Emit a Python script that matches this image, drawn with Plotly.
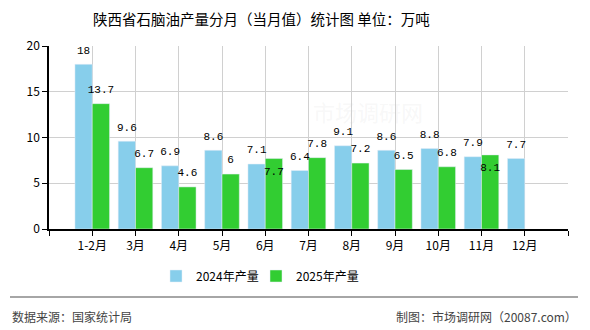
import plotly.graph_objects as go

months = ["1-2月", "3月", "4月", "5月", "6月", "7月", "8月", "9月", "10月", "11月", "12月"]
y2024 = [18, 9.6, 6.9, 8.6, 7.1, 6.4, 9.1, 8.6, 8.8, 7.9, 7.7]
y2025 = [13.7, 6.7, 4.6, 6, 7.7, 7.8, 7.2, 6.5, 6.8, 8.1, None]
pos2024 = ["top center"] * 11
pos2025 = ["top center"] * 11
pos2025[4] = "bottom center"
pos2025[9] = "bottom center"

c24 = "#87CEEB"
c25 = "#32CD32"
cjk = "Noto Sans CJK SC"
xs = list(range(len(months)))

def fmt(v):
    if v is None:
        return ""
    return ("%g" % v)

lblfont = dict(family="Liberation Mono", size=11, color="#000")

fig = go.Figure()
fig.add_trace(go.Bar(x=xs, y=y2024, name="2024年产量", marker_color=c24, hoverinfo="skip", legend="legend"))
fig.add_trace(go.Bar(x=xs, y=y2025, name="2025年产量", marker_color=c25, hoverinfo="skip", legend="legend2"))
fig.add_trace(go.Scatter(x=[i - 0.2 for i in xs], y=y2024, mode="markers+text", text=[fmt(v) for v in y2024],
                         marker=dict(size=11, color="rgba(0,0,0,0)"),
                         textposition=pos2024, showlegend=False, hoverinfo="skip", textfont=lblfont))
fig.add_trace(go.Scatter(x=[i + 0.2 for i in xs], y=y2025, mode="markers+text", text=[fmt(v) for v in y2025],
                         marker=dict(size=11, color="rgba(0,0,0,0)"),
                         textposition=pos2025, showlegend=False, hoverinfo="skip", textfont=lblfont))

legy = -(276 - 229) / 183
fig.update_layout(
    width=590, height=330,
    margin=dict(l=49, r=22, t=46, b=101),
    paper_bgcolor="white", plot_bgcolor="white",
    barmode="group", bargap=0.2, bargroupgap=0,
    font=dict(family=cjk, size=12, color="#000"),
    showlegend=True,
    legend=dict(orientation="h", x=(172 - 16 - 49) / 519, xanchor="left", y=legy, yanchor="middle",
                font=dict(family=cjk, size=12, color="#000"), bgcolor="rgba(0,0,0,0)"),
    legend2=dict(orientation="h", x=(272 - 16 - 49) / 519, xanchor="left", y=legy, yanchor="middle",
                 font=dict(family=cjk, size=12, color="#000"), bgcolor="rgba(0,0,0,0)"),
    xaxis=dict(range=[-1, 11], tickmode="array", tickvals=list(range(-1, 12)),
               ticktext=[""] + months + [""], showgrid=True, gridcolor="#d0d0d0", gridwidth=1,
               showline=True, linecolor="#000", linewidth=1.5, ticks="outside", ticklen=5,
               tickcolor="#000", zeroline=False, tickfont=dict(family=cjk, size=12)),
    yaxis=dict(range=[0, 20], tickvals=[0, 5, 10, 15, 20], showgrid=True, gridcolor="#d0d0d0",
               showline=True, linecolor="#000", linewidth=1.5, ticks="outside", ticklen=5,
               tickcolor="#000", zeroline=False, tickfont=dict(family=cjk, size=12)),
)

fig.add_annotation(text="陕西省石脑油产量分月（当月值）统计图 单位：万吨", xref="paper", yref="paper",
                   x=(261 - 49) / 519, y=1 + (46 - 18) / 183, showarrow=False,
                   font=dict(family=cjk, size=14.5, color="#000"), xanchor="center", yanchor="middle")
fig.add_annotation(text="市场调研网", xref="paper", yref="paper", x=(368 - 49) / 519, y=(229 - 111) / 183,
                   showarrow=False, font=dict(family=cjk, size=22, color="rgba(200,200,200,0.15)"))
fig.add_shape(type="line", xref="paper", yref="paper", x0=(10 - 49) / 519, x1=(578 - 49) / 519,
              y0=-(297 - 229) / 183, y1=-(297 - 229) / 183, line=dict(color="#888", width=1.5))
fig.add_annotation(text="数据来源：国家统计局", xref="paper", yref="paper", x=(10 - 49) / 519,
                   y=-(316 - 229) / 183, xanchor="left", yanchor="middle", showarrow=False,
                   font=dict(family=cjk, size=12, color="#444"))
fig.add_annotation(text="制图：市场调研网（20087.com）", xref="paper", yref="paper", x=(579 - 49) / 519,
                   y=-(316 - 229) / 183, xanchor="right", yanchor="middle", showarrow=False,
                   font=dict(family=cjk, size=12, color="#444"))

fig.write_html("out.html")
